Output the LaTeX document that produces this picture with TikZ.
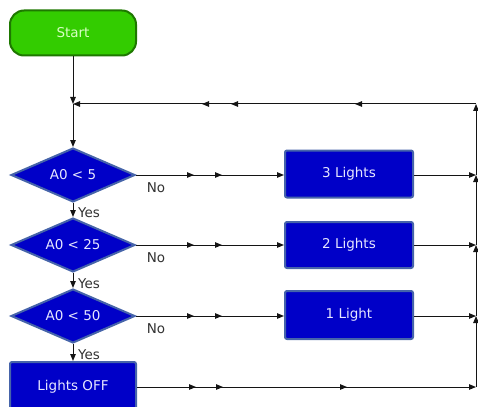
\documentclass[tikz,border=0pt]{standalone}
\usepackage{fontspec}
\setmainfont{DejaVu Sans}
\usetikzlibrary{shapes.geometric,arrows.meta,decorations.markings}
\definecolor{flblue}{RGB}{0,0,200}
\definecolor{flborder}{RGB}{70,100,170}
\definecolor{flgreen}{RGB}{51,204,0}
\definecolor{flgreenb}{RGB}{30,120,0}
\definecolor{fltextg}{RGB}{215,255,195}
\definecolor{fltext}{RGB}{230,230,255}
\definecolor{flline}{RGB}{20,20,20}
\definecolor{fllabel}{RGB}{50,50,50}
\tikzset{
  tiptri/.tip={Triangle[length=7pt,width=5.5pt]},
  conn/.style={draw=flline, line width=1pt, -tiptri},
  mkone/.style={postaction={decorate,decoration={markings,
      mark=at position #1 with {\arrow{tiptri}}}}},
  mktwo/.style 2 args={postaction={decorate,decoration={markings,
      mark=at position #1 with {\arrow{tiptri}},
      mark=at position #2 with {\arrow{tiptri}}}}},
  mkthree/.style n args={3}{postaction={decorate,decoration={markings,
      mark=at position #1 with {\arrow{tiptri}},
      mark=at position #2 with {\arrow{tiptri}},
      mark=at position #3 with {\arrow{tiptri}}}}},
  txt/.style={font=\fontsize{13.5}{16}\selectfont},
  startbox/.style={txt, draw=flgreenb, line width=2pt, fill=flgreen, text=fltextg,
      rounded corners=14pt, minimum width=126pt, minimum height=45pt, inner sep=0pt},
  decbox/.style={txt, shape=diamond, draw=flborder, line width=2pt, fill=flblue, text=fltext,
      minimum width=124pt, minimum height=54pt, aspect=2.3, inner sep=0pt},
  actbox/.style={txt, draw=flborder, line width=2pt, fill=flblue, text=fltext,
      rounded corners=2pt, minimum width=126pt, minimum height=46pt, inner sep=0pt},
  lbl/.style={txt, text=fllabel, inner sep=0pt},
}
\begin{document}
\begin{tikzpicture}[x=1pt,y=-1pt]
\useasboundingbox (0,0) rectangle (478,406);
\clip (0,0) rectangle (478,406);
% nodes
\node[startbox] (start) at (73,33) {Start};
\node[decbox] (d1) at (73,175) {A0 < 5};
\node[decbox] (d2) at (73,245) {A0 < 25};
\node[decbox] (d3) at (73,316) {A0 < 50};
\node[actbox, minimum height=50pt] (off) at (73,387) {Lights OFF};
\node[actbox, minimum width=128pt, minimum height=47pt] (b3) at (349,174) {3 Lights};
\node[actbox, minimum width=128pt, minimum height=46pt] (b2) at (349,245) {2 Lights};
\node[actbox, minimum width=128pt, minimum height=48pt] (b1) at (349,315) {1 Light};
% coordinates
\coordinate (j) at (73,104);
\coordinate (rt) at (476,104);
\coordinate (r1) at (476,175);
\coordinate (r2) at (476,245);
\coordinate (r3) at (476,316);
\coordinate (r4) at (476,387);
% labels
\node[lbl] (n1) at (156,188) {No};
\node[lbl] (n2) at (156,258) {No};
\node[lbl] (n3) at (156,329) {No};
\node[lbl, anchor=west] (y1) at (78,213) {Yes};
\node[lbl, anchor=west] (y2) at (78,284) {Yes};
\node[lbl, anchor=west] (y3) at (78,355) {Yes};
% main flow
\draw[conn] (start.south) -- (j);
\draw[conn] (j) -- (d1.north);
\draw[conn] (d1.south) -- (d2.north);
\draw[conn] (d2.south) -- (d3.north);
\draw[conn] (d3.south) -- (off.north);
% No branches
\draw[conn, mktwo={58pt}{86pt}] (d1.east) -- (b3.west |- d1.east);
\draw[conn, mktwo={58pt}{86pt}] (d2.east) -- (b2.west |- d2.east);
\draw[conn, mktwo={58pt}{86pt}] (d3.east) -- (b1.west |- d3.east);
% to return line
\draw[conn] (b3.east |- r1) -- (r1);
\draw[conn] (b2.east |- r2) -- (r2);
\draw[conn] (b1.east |- r3) -- (r3);
\draw[conn, mkthree={59pt}{86pt}{210pt}] (off.east |- r4) -- (r4);
% return line
\draw[conn] (r4) -- (r3);
\draw[conn] (r3) -- (r2);
\draw[conn] (r2) -- (r1);
\draw[conn] (r1) -- (rt);
\draw[conn, mkthree={121pt}{245pt}{274pt}] (rt) -- (j);
\end{tikzpicture}
\end{document}
